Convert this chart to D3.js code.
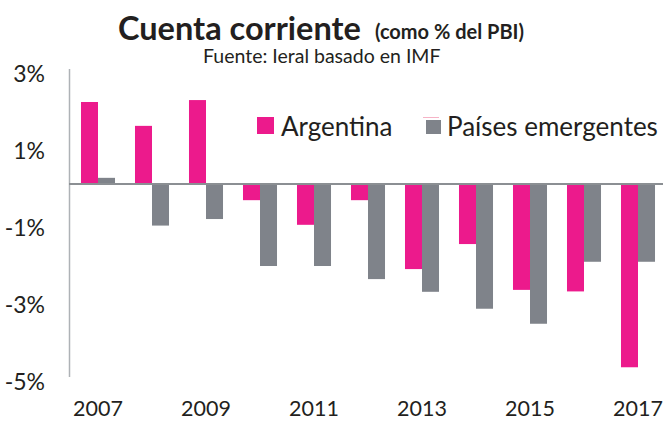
<!DOCTYPE html>
<html lang="es">
	<head>
		<meta charset="utf-8">
		<title>Cuenta corriente</title>
		<style>
			body { margin: 0; background: #fff; }
			svg { font-family: Lato, "Open Sans", sans-serif; }
			.axis text { fill: #231f20; }
		</style>
	</head>
	<body>
		<div id="container"></div>
		<script src="https://cdnjs.cloudflare.com/ajax/libs/d3/7.8.5/d3.min.js"></script>
		<script>
			// data (% del PBI)
			var years = ["2007", "2008", "2009", "2010", "2011", "2012", "2013", "2014", "2015", "2016", "2017"];
			var argentina = [2.13, 1.51, 2.18, -0.42, -1.06, -0.42, -2.21, -1.56, -2.75, -2.79, -4.76];
			var emergentes = [0.16, -1.08, -0.91, -2.13, -2.13, -2.47, -2.80, -3.24, -3.63, -2.02, -2.02];
			var yTicks = [3, 1, -1, -3, -5];
			var xTicks = ["2007", "2009", "2011", "2013", "2015", "2017"];
			var seriesNames = ["Argentina", "Países emergentes"];
			var colors = ["#ec1a8c", "#7f838a"];

			var width = 663, height = 421;

			var svg = d3.select("#container").append("svg")
				.attr("width", width)
				.attr("height", height);

			// scales
			var x0 = d3.scaleBand()
				.domain(years)
				.range([71, 665])
				.paddingInner(0.37)
				.paddingOuter(0.185);
			var x1 = d3.scaleBand()
				.domain(seriesNames)
				.range([0, x0.bandwidth()]);
			var y = d3.scaleLinear()
				.domain([-5, 3])
				.range([376.5, 68.5]);

			var rows = years.map(function(yr, i) {
				return { year: yr, values: [argentina[i], emergentes[i]] };
			});

			// bars
			var groups = svg.append("g").selectAll("g")
				.data(rows)
				.enter().append("g")
				.attr("transform", function(d) { return "translate(" + x0(d.year) + ",0)"; });
			groups.selectAll("rect")
				.data(function(d) { return d.values.map(function(v, k) { return { key: seriesNames[k], value: v, k: k }; }); })
				.enter().append("rect")
				.attr("x", function(d) { return x1(d.key); })
				.attr("width", x1.bandwidth())
				.attr("y", function(d) { return y(Math.max(0, d.value)); })
				.attr("height", function(d) { return Math.abs(y(d.value) - y(0)); })
				.attr("fill", function(d) { return colors[d.k]; });

			// y axis
			var yAxis = svg.append("g")
				.attr("class", "axis")
				.attr("transform", "translate(69,0)")
				.call(d3.axisLeft(y).tickValues(yTicks).tickSize(0).tickSizeOuter(0).tickPadding(24)
					.tickFormat(function(d) { return d + "%"; }));
			yAxis.select(".domain").attr("stroke", "#aeb2b6").attr("stroke-width", 1.5);
			yAxis.selectAll("text")
				.attr("font-size", 23)
				.attr("dy", "0.55em")
				.attr("font-family", "Lato, sans-serif");

			// zero line
			svg.append("line")
				.attr("x1", 69).attr("x2", width)
				.attr("y1", y(0)).attr("y2", y(0))
				.attr("stroke", "#8b8f93")
				.attr("stroke-width", 2.2);

			// x axis, only odd years labelled
			var xAxis = svg.append("g")
				.attr("class", "axis")
				.attr("transform", "translate(0,397)")
				.call(d3.axisBottom(x0).tickValues(xTicks).tickSize(0).tickPadding(0));
			xAxis.select(".domain").remove();
			xAxis.selectAll("text")
				.attr("font-size", 21.5)
				.attr("dy", "0.9em")
				.attr("font-family", "Lato, sans-serif");

			// legend
			var legend = svg.append("g");
			legend.append("rect").attr("x", 257).attr("y", 117).attr("width", 17).attr("height", 17).attr("fill", colors[0]);
			legend.append("text").attr("x", 281).attr("y", 136).attr("font-size", 26).attr("fill", "#231f20").text(seriesNames[0]);
			legend.append("line").attr("x1", 423).attr("x2", 439).attr("y1", 117.5).attr("y2", 117.5)
				.attr("stroke", "#f6b3c6").attr("stroke-width", 1);
			legend.append("rect").attr("x", 426).attr("y", 120).attr("width", 15).attr("height", 14).attr("fill", colors[1]);
			legend.append("text").attr("x", 447).attr("y", 136).attr("font-size", 26).attr("fill", "#231f20").text(seriesNames[1]);

			// titles
			svg.append("text")
				.attr("x", 118).attr("y", 40)
				.attr("font-size", 32.5).attr("font-weight", "bold").attr("fill", "#231f20")
				.text("Cuenta corriente");
			svg.append("text")
				.attr("x", 375).attr("y", 39)
				.attr("font-size", 20).attr("font-weight", "bold").attr("fill", "#231f20")
				.text("(como % del PBI)");
			svg.append("text")
				.attr("x", 203).attr("y", 63)
				.attr("font-size", 19.5).attr("fill", "#231f20")
				.text("Fuente: Ieral basado en IMF");
		</script>
	</body>
</html>
